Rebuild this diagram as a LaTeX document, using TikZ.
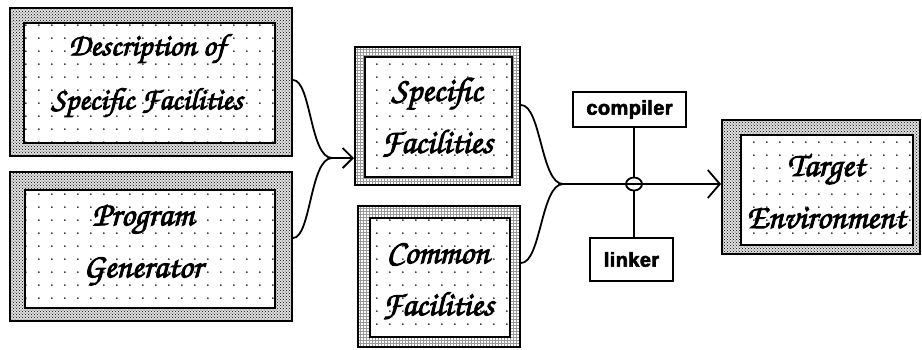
\documentclass[tikz,border=0pt]{standalone}
\usepackage[T1]{fontenc}
\usepackage{fontspec}
\newfontfamily\tagfont{Liberation Sans}[LetterSpace=2]
\usetikzlibrary{patterns,patterns.meta,arrows.meta,shapes.geometric}
% calligraphic captions (URW Chancery), stroked to make the strokes heavier
\newcommand\handfont{\usefont{T1}{pzc}{mb}{it}\fontsize{34}{52}\selectfont}
\newcommand\heavy[1]{\special{pdf:literal direct 2 Tr 0.9 w}#1\special{pdf:literal direct 0 Tr}}
\newcommand\heavytag[1]{\special{pdf:literal direct 2 Tr 0.6 w}#1\special{pdf:literal direct 0 Tr}}
% sparse dot grid used inside the panels
\tikzdeclarepattern{
  name=sparsedots, type=uncolored,
  bottom left={(-2pt,-2pt)}, top right={(11pt,11pt)},
  tile size={(13pt,13pt)},
  code={\fill (0pt,0pt) circle[radius=1pt];}
}
\tikzset{
  frame/.style={draw, line width=2pt, preaction={fill=black!12}, pattern=crosshatch dots, pattern color=black, inner sep=0pt},
  ladderframe/.style={draw, line width=2pt, pattern=grid, pattern color=black!40, inner sep=0pt},
  panel/.style={draw, line width=2pt, preaction={fill=white}, pattern=sparsedots, pattern color=black, inner sep=0pt},
  caption/.style={font=\handfont, align=center, inner sep=0pt},
  wire/.style={line width=1.8pt},
  barb/.style={-{Straight Barb[length=10pt,width=20pt,line width=1.8pt]}},
  bigbarb/.style={-{Straight Barb[length=12pt,width=28pt,line width=1.8pt]}},
  tool/.style={draw, line width=1.5pt, inner sep=0pt, font=\tagfont\bfseries\fontsize{20}{22}\selectfont},
}
\begin{document}
\begin{tikzpicture}[x=1pt,y=-1pt]
\useasboundingbox (0,0) rectangle (922,349);

% source boxes
\node[frame, minimum width=282pt, minimum height=148pt] (descO) at (151,82) {};
\node[panel, minimum width=251pt, minimum height=120pt] (descI) at (149.5,83) {};
\node[caption, font=\handfont\fontsize{31}{54}\selectfont] (descT) at (147,76) {\heavy{Description of}\\\heavy{Specific Facilities}};

\node[frame, minimum width=282pt, minimum height=149pt] (progO) at (151,246.5) {};
\node[panel, minimum width=250pt, minimum height=118pt] (progI) at (150,249) {};
\node[caption] (progT) at (143,245) {\heavy{Program}\\\heavy{Generator}};

% facility boxes
\node[ladderframe, minimum width=165pt, minimum height=138pt] (specO) at (437.5,116) {};
\node[panel, minimum width=147pt, minimum height=120pt] (specI) at (438.5,117) {};
\node[caption] (specT) at (437,117) {\heavy{Specific}\\\heavy{Facilities}};

\node[ladderframe, minimum width=162pt, minimum height=141pt] (commO) at (439,276.5) {};
\node[panel, minimum width=140pt, minimum height=119pt] (commI) at (440,277.5) {};
\node[caption] (commT) at (438,281) {\heavy{Common}\\\heavy{Facilities}};

% target
\node[frame, minimum width=198pt, minimum height=134pt] (targO) at (821,187) {};
\node[panel, minimum width=172pt, minimum height=110pt] (targI) at (827,190) {};
\node[caption] (targT) at (826,191) {\heavy{Target}\\\heavy{Environment}};

% tools
\node[tool, minimum width=113pt, minimum height=35pt] (comp) at (629.5,109.5) {\heavytag{compiler}};
\node[tool, minimum width=83pt, minimum height=43pt] (link) at (631.5,259.5) {\heavytag{linker}};

% generation step
\coordinate (m1) at (332,158);
\draw[wire] ([yshift=2pt]descO.east) .. controls +(18,0) and +(-22,0) .. (m1);
\draw[wire] ([yshift=8.5pt]progO.east) .. controls +(18,0) and +(-22,0) .. (m1);
\draw[wire, barb] (m1) -- (m1 -| specO.west);

% build step
\coordinate (m2) at (563,184);
\draw[wire] ([yshift=11pt]specO.east) .. controls +(20,0) and +(-22,0) .. (m2);
\draw[wire] ([yshift=13.5pt]commO.east) .. controls +(20,0) and +(-22,0) .. (m2);
\draw[wire, bigbarb] (m2) -- (m2 -| targO.west);
\node[ellipse, draw, line width=1.8pt, minimum width=16pt, minimum height=13pt, inner sep=0pt] (join) at (634,184) {};
\draw[wire] (join.north |- comp.south) -- (join.north);
\draw[wire] (join.south) -- (join.south |- link.north);
\end{tikzpicture}
\end{document}
